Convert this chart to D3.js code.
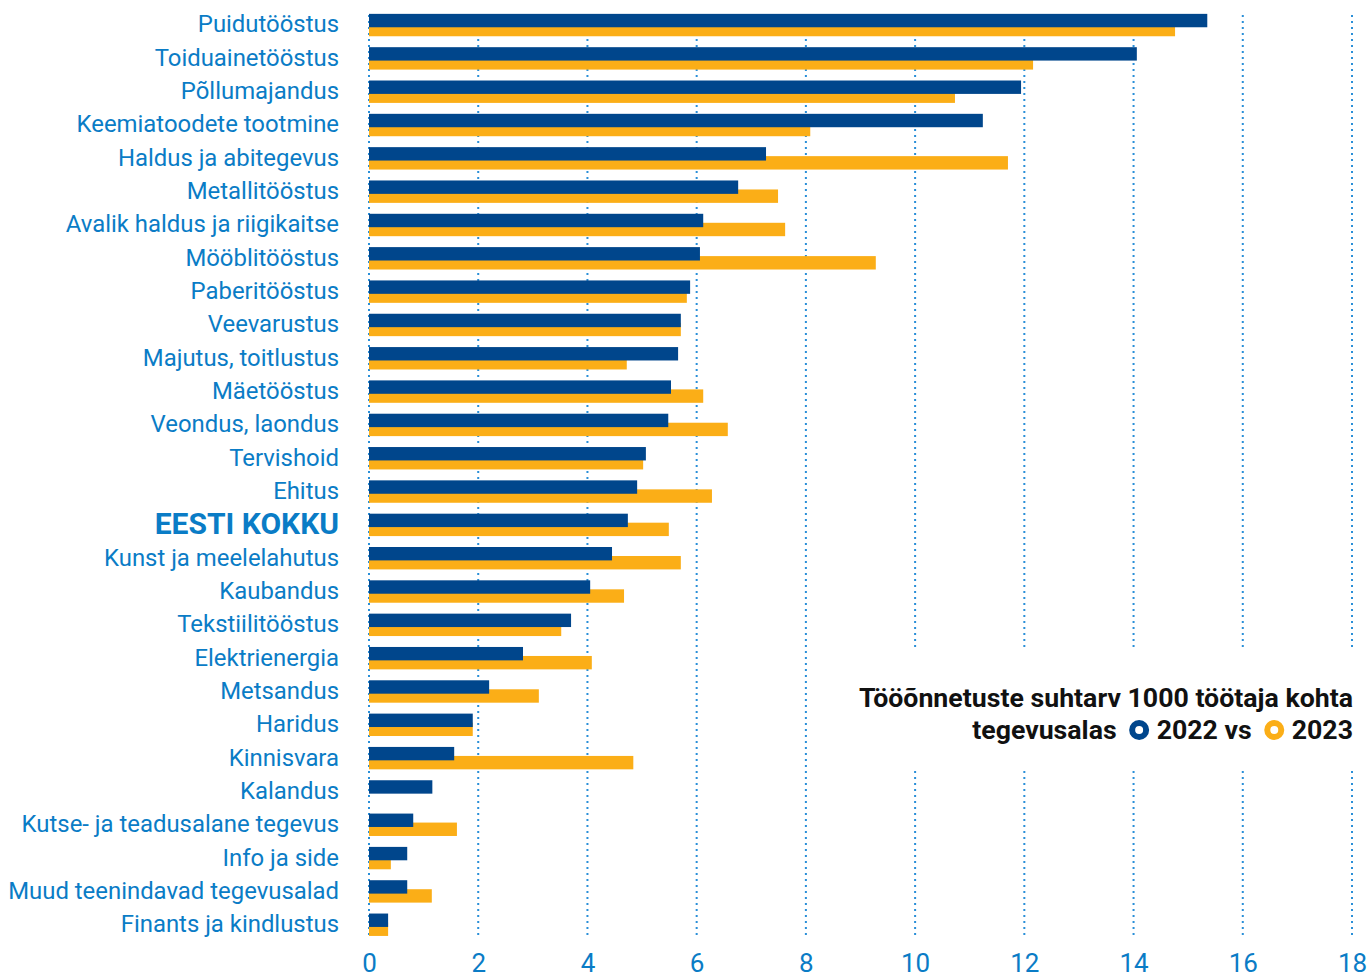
<!DOCTYPE html>
<html>
<head>
<meta charset="utf-8">
<script src="https://cdn.jsdelivr.net/npm/d3@7"></script>
<style>
  body { margin: 0; background: #fff; }
  svg { display: block; font-family: Roboto, "Noto Sans", sans-serif; }
</style>
</head>
<body>
<svg id="chart" width="1369" height="977"></svg>
<script>
// andmed
var tegevusalad = ["Puidutööstus","Toiduainetööstus","Põllumajandus","Keemiatoodete tootmine","Haldus ja abitegevus",
  "Metallitööstus","Avalik haldus ja riigikaitse","Mööblitööstus","Paberitööstus","Veevarustus","Majutus, toitlustus",
  "Mäetööstus","Veondus, laondus","Tervishoid","Ehitus","EESTI KOKKU","Kunst ja meelelahutus","Kaubandus",
  "Tekstiilitööstus","Elektrienergia","Metsandus","Haridus","Kinnisvara","Kalandus","Kutse- ja teadusalane tegevus",
  "Info ja side","Muud teenindavad tegevusalad","Finants ja kindlustus"];
var aasta2022 = [15.35,14.06,11.94,11.24,7.27,6.76,6.12,6.06,5.88,5.71,5.66,5.53,5.48,5.07,4.91,4.74,4.45,4.05,3.70,2.82,2.20,1.90,1.56,1.16,0.81,0.70,0.70,0.35];
var aasta2023 = [14.76,12.16,10.73,8.08,11.70,7.49,7.62,9.28,5.82,5.71,4.72,6.12,6.57,5.02,6.28,5.49,5.71,4.67,3.52,4.08,3.11,1.90,4.84,0,1.61,0.40,1.15,0.35];
var tikid = [0,2,4,6,8,10,12,14,16,18];

var siniT = "#00468c", oranz = "#fbae17", silt = "#0a7cc6", vorgu = "#2a8fd8";

var svg = d3.select("#chart");
var x = d3.scaleLinear().domain([0,18]).range([369,1352]);
var y = d3.scaleBand().domain(tegevusalad).range([8.4,941.4]).padding(0);
var bh = 13.4, nihe = 9; // ribade kõrgus, oranži nihe

//võrk
svg.append("g").selectAll("line").data(tikid).join("line")
  .attr("x1", d => x(d)).attr("x2", d => x(d))
  .attr("y1", 15).attr("y2", 937)
  .attr("stroke", vorgu).attr("stroke-width", 2)
  .attr("stroke-dasharray", "2,4");

// legendi taust peidab võrgu
svg.append("rect").attr("x", 850).attr("y", 647).attr("width", 519).attr("height", 120).attr("fill", "#fff");

//ribad
var grupp = svg.append("g");
grupp.selectAll(".r23").data(tegevusalad).join("rect").attr("class","r23")
  .attr("x", x(0)).attr("y", d => y(d) + (y.bandwidth() - bh - nihe)/2 + nihe)
  .attr("width", (d,i) => x(aasta2023[i]) - x(0)).attr("height", bh)
  .attr("fill", oranz);
grupp.selectAll(".r22").data(tegevusalad).join("rect").attr("class","r22")
  .attr("x", x(0)).attr("y", d => y(d) + (y.bandwidth() - bh - nihe)/2)
  .attr("width", (d,i) => x(aasta2022[i]) - x(0)).attr("height", bh)
  .attr("fill", siniT);

//sildid
svg.append("g").selectAll("text").data(tegevusalad).join("text")
  .attr("x", 339).attr("y", d => y(d) + y.bandwidth()/2)
  .attr("dy", "0.31em").attr("text-anchor", "end")
  .attr("fill", silt)
  .attr("font-size", d => d == "EESTI KOKKU" ? 30 : 23.9)
  .attr("font-weight", d => d == "EESTI KOKKU" ? 700 : 400)
  .text(d => d);

// x telg
var telg = svg.append("g").attr("transform", "translate(0,950)")
  .call(d3.axisBottom(x).tickValues(tikid).tickSize(0).tickPadding(0).tickFormat(d3.format("d")));
telg.select(".domain").remove();
telg.selectAll("text").attr("font-size", 26).attr("fill", silt).attr("font-family", "Roboto").attr("dy", "0.85em");

//legend
var lx = 1353;
svg.append("text").attr("x", lx).attr("y", 707).attr("text-anchor", "end")
  .attr("font-size", 26.7).attr("font-weight", 700).attr("fill", "#111")
  .text("Tööõnnetuste suhtarv 1000 töötaja kohta");

var rida = [
  {t: "2023", c: null},
  {t: null, c: oranz},
  {t: "2022 vs", c: null},
  {t: null, c: siniT},
  {t: "tegevusalas", c: null}
];
var pos = lx;
rida.forEach(function(o, i){
  if(o.t){
    var el = svg.append("text").attr("x", pos).attr("y", 739).attr("text-anchor", "end")
      .attr("font-size", 26.7).attr("font-weight", 700).attr("fill", "#111").text(o.t);
    pos -= el.node().getComputedTextLength() + 8;
  } else {
    svg.append("circle").attr("cx", pos - 9.5).attr("cy", 730).attr("r", 7)
      .attr("fill", "none").attr("stroke", o.c).attr("stroke-width", 6);
    pos -= 19 + 13;
  }
});
</script>
</body>
</html>
